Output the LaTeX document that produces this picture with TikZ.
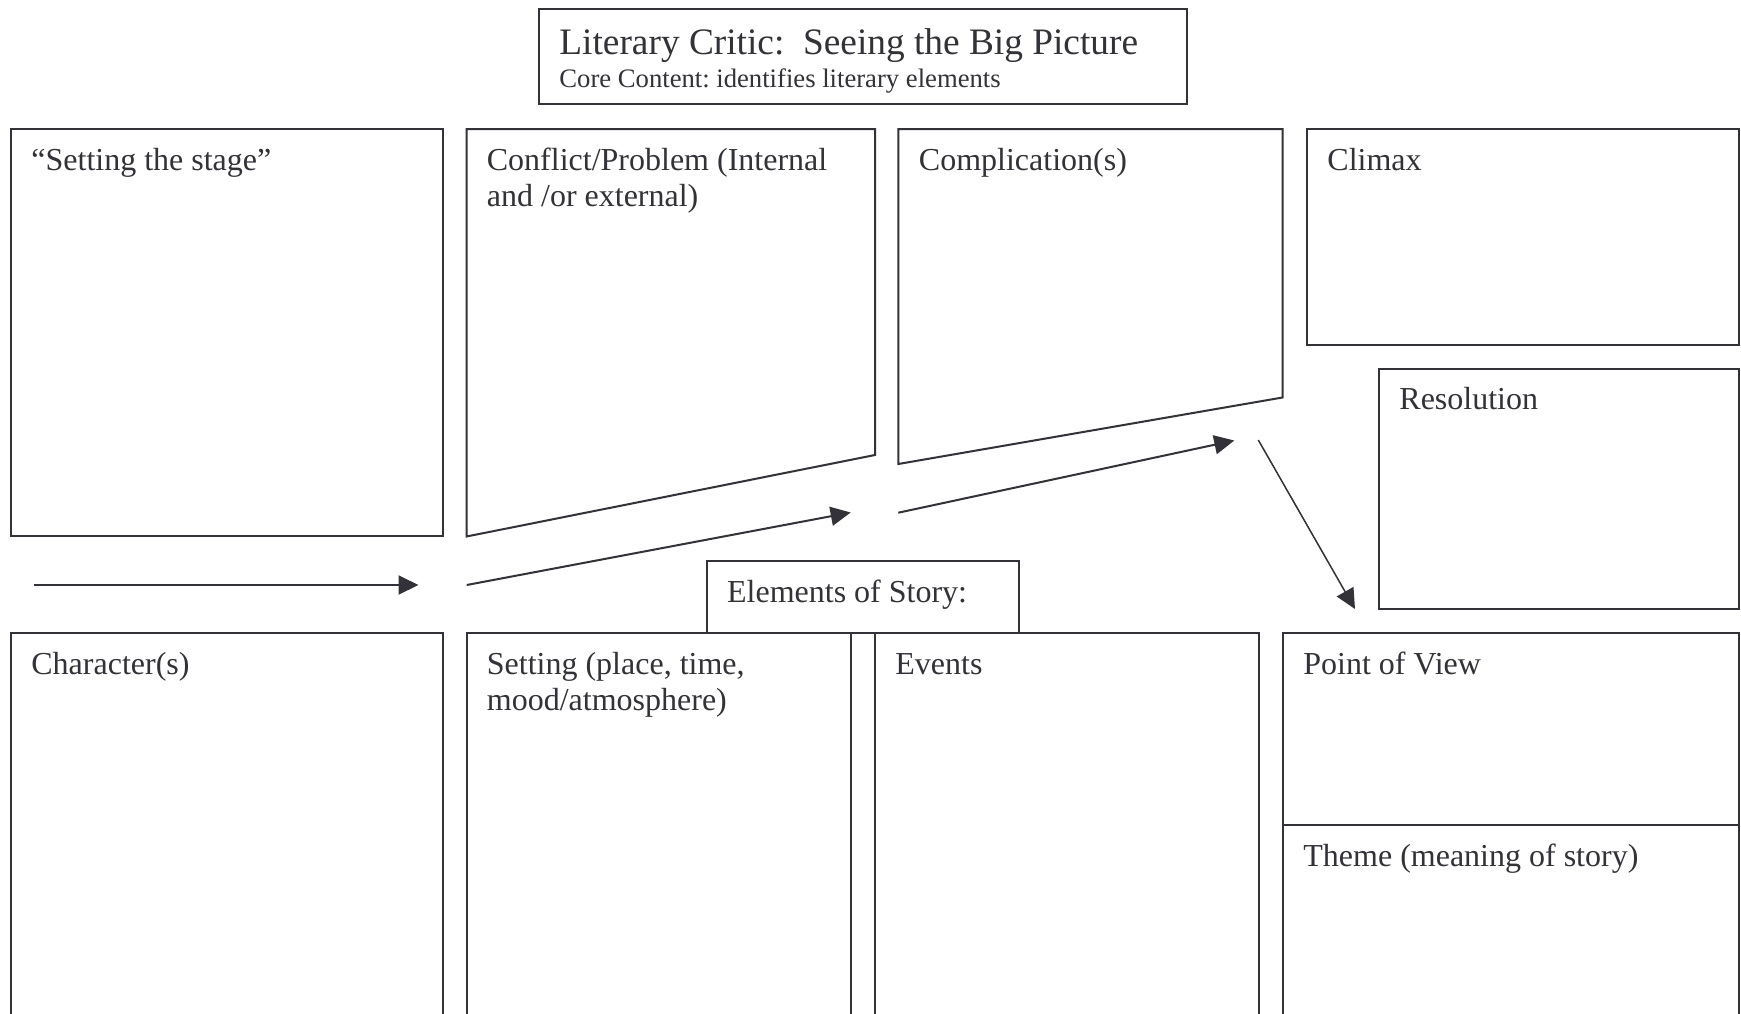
\documentclass[tikz,border=0pt]{standalone}
\usepackage{fontspec}
\setmainfont{Liberation Serif}
\usetikzlibrary{arrows.meta}
\definecolor{ink}{RGB}{50,50,56}
\newcommand{\bodyfont}{\fontsize{16}{18.4}\selectfont}
\newcommand{\titlefont}{\fontsize{18.67}{21.5}\selectfont}
\newcommand{\subfont}{\fontsize{13.33}{15.3}\selectfont}
\frenchspacing
\begin{document}
\begin{tikzpicture}[x=0.5pt,y=-0.5pt,
  box/.style={draw=ink,line width=1pt},
  lbl/.style={anchor=base west,inner sep=0pt,text=ink,font=\bodyfont},
  conn/.style={draw=ink,line width=1pt,-{Triangle[length=10pt,width=9.5pt]}}]
\useasboundingbox (0,0) rectangle (1741,1013);
\clip (0,0) rectangle (1741,1013);
\fill[white] (0,0) rectangle (1741,1013);

% title
\draw[box] (539,9) rectangle (1187,104);
\node[lbl,font=\titlefont] (title) at (559,54) {Literary Critic:\ \ Seeing the Big Picture};
\node[lbl,font=\subfont] (sub) at (559,87.5) {Core Content: identifies literary elements};

% top row
\draw[box] (11,129) rectangle (443,536);
\node[lbl] (stage) at (31,170) {“Setting the stage”};

\draw[box] (466.5,129) -- (875,129) -- (875,455) -- (466.5,536.5) -- cycle;
\node[lbl] (conflict) at (486.5,170) {\begin{tabular}[t]{@{}l@{}}Conflict/Problem (Internal\\and /or external)\end{tabular}};

\draw[box] (898.3,129) -- (1282.5,129) -- (1282.5,397.5) -- (898.3,464) -- cycle;
\node[lbl] (compl) at (918.5,170) {Complication(s)};

\draw[box] (1307,129) rectangle (1739,344.5);
\node[lbl] (climax) at (1327,170) {Climax};

\draw[box] (1379,368.5) rectangle (1739,609);
\node[lbl] (resol) at (1399,409.5) {Resolution};

% arrows
\coordinate (a1s) at (34.3,585);
\coordinate (a1e) at (418.5,585);
\coordinate (a2s) at (466.7,585);
\coordinate (a2e) at (850.7,512.5);
\coordinate (a3s) at (898.3,512.7);
\coordinate (a3e) at (1234.3,440.5);
\coordinate (a4s) at (1258.3,440);
\coordinate (a4e) at (1355,609);
\draw[conn] (a1s) -- (a1e);
\draw[conn] (a2s) -- (a2e);
\draw[conn] (a3s) -- (a3e);
\draw[conn,line width=0.75pt] (a4s) -- (a4e);

% bottom row
\draw[box] (11,632.7) rectangle (443,1030);
\node[lbl] (chars) at (31,674) {Character(s)};

\draw[box] (466.5,632.7) rectangle (851,1030);
\node[lbl] (setting) at (486.5,674) {\begin{tabular}[t]{@{}l@{}}Setting (place, time,\\mood/atmosphere)\end{tabular}};

\draw[box] (874.5,632.7) rectangle (1259.3,1030);
\node[lbl] (events) at (895,674) {Events};

\draw[box] (1282.7,632.7) rectangle (1739,1030);
\draw[box] (1282.7,825) -- (1739,825);
\node[lbl] (pov) at (1303,674) {Point of View};
\node[lbl] (theme) at (1303,866) {Theme (meaning of story)};

% elements of story
\draw[box,fill=white] (706.7,561) rectangle (1019,632.7);
\node[lbl] (elements) at (726.7,602.5) {Elements of Story:};
\end{tikzpicture}
\end{document}
